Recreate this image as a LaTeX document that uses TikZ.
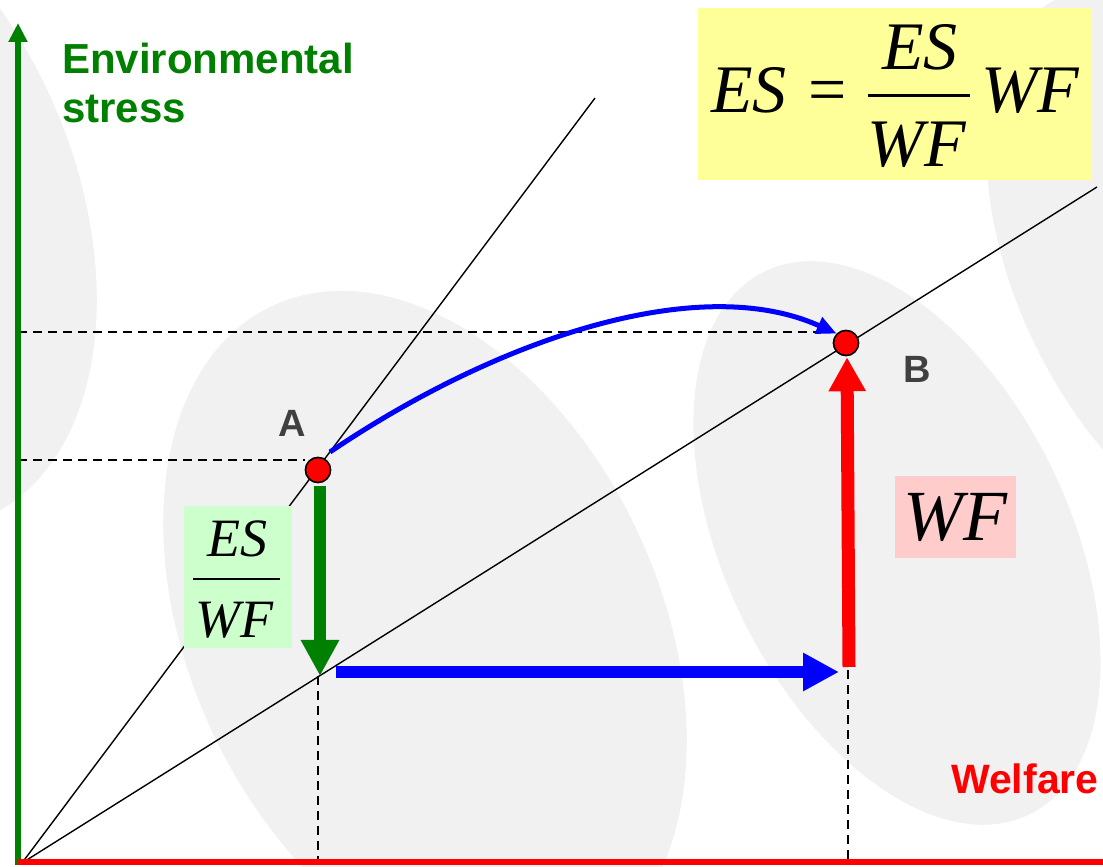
\documentclass[tikz,border=0pt]{standalone}
\usepackage{fontspec}
\newfontfamily\arial{Liberation Sans}
\newfontfamily\tms{Liberation Serif}
\usetikzlibrary{arrows.meta,calc}
\definecolor{ellgray}{RGB}{241,241,241}
\definecolor{axgreen}{RGB}{0,128,0}
\definecolor{yelbox}{RGB}{255,255,153}
\definecolor{grnbox}{RGB}{204,255,204}
\definecolor{pnkbox}{RGB}{255,204,204}
\definecolor{lblgray}{RGB}{64,64,64}
\begin{document}
\begin{tikzpicture}[x=1pt,y=1pt,
  bgell/.style={fill=ellgray},
  ray/.style={black, line width=1.4pt},
  guide/.style={black, line width=1.6pt, dash pattern=on 9pt off 6pt},
  pt/.style={circle, fill=red, draw=black, line width=1.5pt, minimum size=25pt, inner sep=0pt},
  lbl/.style={font=\arial\bfseries\fontsize{38}{40}\selectfont, text=lblgray, inner sep=0pt},
  fat/.style={line width=12.5pt},
  bigmath/.style={font=\tms\itshape\fontsize{68}{70}\selectfont, inner sep=0pt},
  midmath/.style={font=\tms\itshape\fontsize{54}{56}\selectfont, inner sep=0pt},
]
\useasboundingbox (0,0) rectangle (1103,867);
\fill[white] (0,0) rectangle (1103,867);
% background ellipses
\begin{scope}
\clip (0,0) rectangle (1103,867);
\fill[bgell, rotate around={25:(425,235)}] (425,235) ellipse [x radius=235, y radius=360];
\fill[bgell, rotate around={26:(897,324)}] (897,324) ellipse [x radius=172, y radius=302];
\fill[bgell, rotate around={25:(-165,676)}] (-165,676) ellipse [x radius=235, y radius=360];
\fill[bgell, rotate around={26:(1190,597)}] (1190,597) ellipse [x radius=172, y radius=302];
\end{scope}
% key coordinates
\coordinate (O) at (22,4);
\coordinate (steepEnd) at (595,769);
\coordinate (flatEnd) at (1097,680);
\coordinate (P) at (318,191);
\coordinate (Q) at (848,197);
\coordinate (yA) at (18,407);
\coordinate (yB) at (18,535);
\node[pt] (A) at (318,397) {};
\node[pt] (B) at (846,524) {};
% rays
\draw[ray] (O) -- (steepEnd);
\draw[ray] (O) -- (flatEnd);
% guides
\draw[guide] (yA) -- (yA -| A.west);
\draw[guide] (yB) -- (yB -| B.west);
\draw[guide] (P) -- (P |- O);
\draw[guide] (Q) -- (Q |- O);
% axes
\coordinate (ybot) at (18,2);
\coordinate (ytop) at (18,844);
\coordinate (xleft) at (18,4.7);
\coordinate (xright) at (1103,4.7);
\draw[axgreen, line width=5.5pt, -{Triangle[length=19pt,width=18pt]}] (ybot) -- (ytop);
\draw[red, line width=6pt] (xleft) -- (xright);
% boxes
\node[fill=yelbox, minimum width=394pt, minimum height=172pt, inner sep=0pt] (eqbox) at (895,773) {};
\node[fill=grnbox, minimum width=108pt, minimum height=142pt, inner sep=0pt] (gbox) at (238,290) {};
\node[fill=pnkbox, minimum width=121pt, minimum height=82pt, inner sep=0pt, font=\tms\itshape\fontsize{72}{74}\selectfont] (pbox) at (955.5,350) {WF};
% formula
\node[bigmath, anchor=base west] (es1) at (711,754) {ES};
\node[font=\tms\fontsize{68}{70}\selectfont, inner sep=0pt, anchor=base] (eqsign) at (828,754) {=};
\coordinate (fracL) at (868,771);
\coordinate (fracR) at (970,771);
\draw[black, line width=3pt] (fracL) -- (fracR);
\node[bigmath, anchor=base] (num) at (920,797) {ES};
\node[bigmath, anchor=base] (den) at (917,700) {WF};
\node[bigmath, anchor=base west] (wf1) at (981,754) {WF};
% small fraction
\node[midmath, anchor=base] (gnum) at (237,310) {ES};
\coordinate (gfL) at (193,288);
\coordinate (gfR) at (280,288);
\draw[black, line width=2pt] (gfL) -- (gfR);
\node[midmath, anchor=base] (gden) at (234,229) {WF};
% thick arrows
\draw[axgreen, fat, -{Triangle[length=36pt,width=36pt]}] ($(A.south)+(2,-3)$) -- ($(P)+(2,0)$);
\draw[blue, fat, -{Triangle[length=36pt,width=36pt]}] ($(P)+(18,4)$) -- ($(Q)+(-9,-2)$);
\draw[red, line width=13pt, -{Triangle[length=34pt,width=35pt]}] ($(Q)+(1,3)$) -- ($(B.south)+(1,-1)$);
% curved arrow
\draw[blue, line width=5pt, -{Triangle[length=20pt,width=17pt]}] ($(A)+(12,18)$) .. controls (500,530) and (700,595) .. (B.north west);
% redraw points on top
\node[pt] at (A) {};
\node[pt] at (B) {};
% labels
\node[lbl, anchor=base] (Alab) at (292,430) {A};
\node[lbl, anchor=base] (Blab) at (917,484) {B};
\node[anchor=base west, align=left, font=\arial\bfseries\fontsize{42}{49}\selectfont, text=axgreen, inner sep=0pt] (ylab) at (62,744) {Environmental\\stress};
\node[anchor=base west, font=\arial\bfseries\fontsize{41}{43}\selectfont, text=red, inner sep=0pt] (xlab) at (951,73) {Welfare};
\end{tikzpicture}
\end{document}
